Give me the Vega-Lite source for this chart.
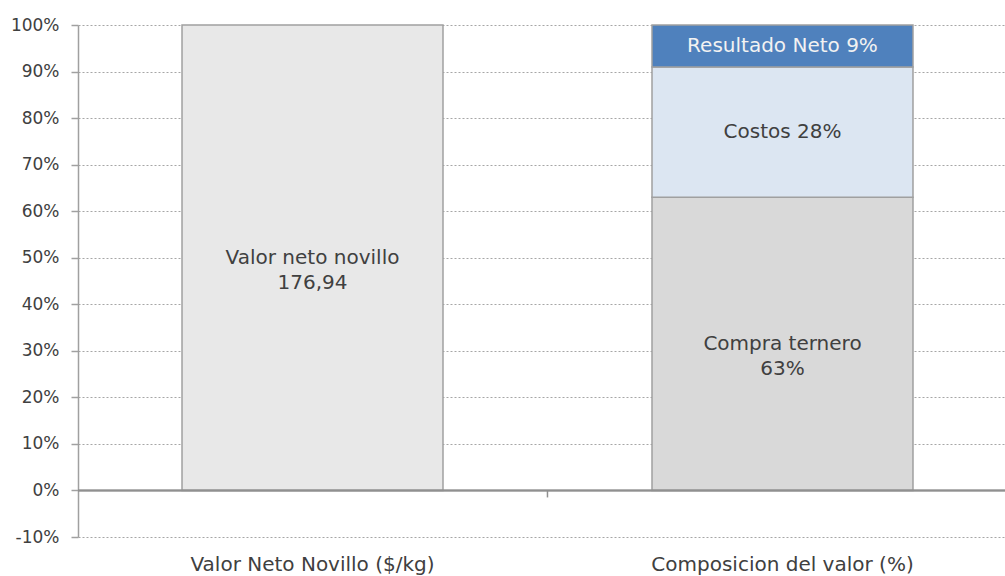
{
  "$schema": "https://vega.github.io/schema/vega-lite/v6.json",
  "autosize": "none",
  "width": 939,
  "height": 512,
  "padding": {"left": 78, "top": 25, "right": 0, "bottom": 39},
  "background": "white",
  "config": {
    "view": {"stroke": null},
    "font": "DejaVu Sans"
  },
  "data": {
    "values": [
      {"cat": "Valor Neto Novillo ($/kg)", "seg": "Valor neto novillo", "value": 1.0, "order": 1, "label": ["Valor neto novillo", "176,94"]},
      {"cat": "Composicion del valor (%)", "seg": "Compra ternero", "value": 0.63, "order": 1, "label": ["Compra ternero", "63%"]},
      {"cat": "Composicion del valor (%)", "seg": "Costos", "value": 0.28, "order": 2, "label": ["Costos 28%"]},
      {"cat": "Composicion del valor (%)", "seg": "Resultado Neto", "value": 0.09, "order": 3, "label": ["Resultado Neto 9%"]}
    ]
  },
  "transform": [
    {"stack": "value", "groupby": ["cat"], "sort": [{"field": "order", "order": "ascending"}], "as": ["v0", "v1"]},
    {"calculate": "(datum.v0 + datum.v1) / 2", "as": "mid"}
  ],
  "encoding": {
    "x": {
      "field": "cat",
      "type": "nominal",
      "sort": ["Valor Neto Novillo ($/kg)", "Composicion del valor (%)"],
      "scale": {"paddingInner": 0.4447, "paddingOuter": 0.2213},
      "axis": {
        "title": null,
        "labelAngle": 0,
        "ticks": false,
        "domain": false,
        "labelFontSize": 20,
        "labelLimit": 0,
        "labelColor": "#404040",
        "labelPadding": 17,
        "labelFont": "DejaVu Sans"
      }
    }
  },
  "layer": [
    {
      "mark": {"type": "bar", "stroke": "#a0a0a0", "strokeWidth": 1.5},
      "encoding": {
        "y": {
          "field": "v0",
          "type": "quantitative",
          "scale": {"domain": [-0.1, 1], "nice": false, "zero": false},
          "axis": {
            "title": null,
            "format": ".0%",
            "labelExpr": "replace(datum.label, '\u2212', '-')",
            "values": [-0.1, 0, 0.1, 0.2, 0.3, 0.4, 0.5, 0.6, 0.7, 0.8, 0.9, 1.0],
            "labelFontSize": 17,
            "labelFont": "DejaVu Sans",
            "labelColor": "#404040",
            "labelPadding": 12,
            "tickSize": 7,
            "tickColor": "#a0a0a0",
            "tickWidth": 1.5,
            "domainColor": "#a0a0a0",
            "domainWidth": 1.5,
            "grid": true,
            "gridColor": "#a6a6a6",
            "gridDash": [2, 2],
            "gridWidth": 1
          }
        },
        "y2": {"field": "v1"},
        "color": {
          "field": "seg",
          "type": "nominal",
          "scale": {
            "domain": ["Valor neto novillo", "Compra ternero", "Costos", "Resultado Neto"],
            "range": ["#e8e8e8", "#d9d9d9", "#dce6f2", "#4f81bd"]
          },
          "legend": null
        }
      }
    },
    {
      "mark": {"type": "rule", "color": "#909090", "strokeWidth": 1.5},
      "encoding": {"y": {"datum": 0, "type": "quantitative"}, "x": {"value": 0}, "x2": {"value": 939}}
    },
    {
      "data": {"values": [{"cat": "Composicion del valor (%)"}]},
      "transform": [],
      "mark": {"type": "rule", "color": "#909090", "strokeWidth": 1.5},
      "encoding": {
        "x": {"field": "cat", "type": "nominal", "bandPosition": -0.4005},
        "y": {"datum": 0, "type": "quantitative"},
        "y2": {"datum": -0.015}
      }
    },
    {
      "mark": {"type": "text", "fontSize": 20, "lineHeight": 25, "baseline": "middle", "font": "DejaVu Sans"},
      "encoding": {
        "y": {"field": "mid", "type": "quantitative"},
        "text": {"field": "label"},
        "color": {
          "field": "seg",
          "type": "nominal",
          "scale": {
            "domain": ["Valor neto novillo", "Compra ternero", "Costos", "Resultado Neto"],
            "range": ["#404040", "#404040", "#404040", "#f2f2f2"]
          },
          "legend": null
        }
      }
    }
  ],
  "resolve": {"scale": {"color": "independent"}}
}
